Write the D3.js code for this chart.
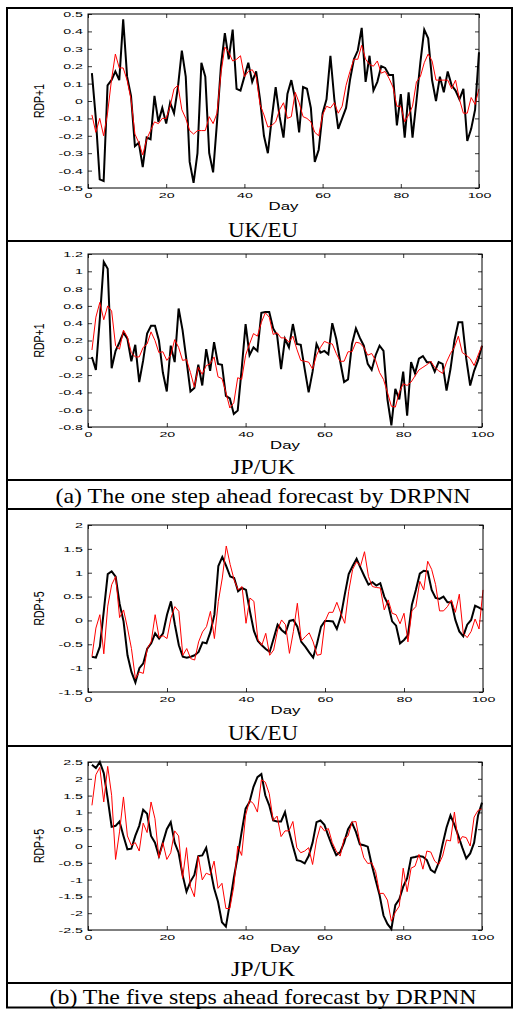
<!DOCTYPE html>
<html>
<head>
<meta charset="utf-8">
<script src="https://cdn.jsdelivr.net/npm/d3@7.9.0/dist/d3.min.js"></script>
<style>
  body { margin: 0; background: #fff; }
  svg { display: block; }
</style>
</head>
<body>
<svg id="chart" width="513" height="1009"></svg>
<script>
// days 1..100 on the x axis
const days = d3.range(1, 101);
const xTicks = [0, 20, 40, 60, 80, 100];

// (a) one step ahead, UK/EU
const ukEuActual1 = [0.16, -0.1, -0.45, -0.46, 0.09, 0.12, 0.17, 0.12, 0.47, 0.14,
  0.03, -0.26, -0.24, -0.38, -0.21, -0.22, 0.03, -0.12, -0.04, -0.13,
  -0.01, -0.07, 0.08, 0.29, 0.14, -0.35, -0.47, -0.3, 0.22, 0.14,
  -0.3, -0.41, -0.12, 0.2, 0.39, 0.24, 0.41, 0.07, 0.06, 0.14,
  0.22, 0.11, 0.17, 0.01, -0.2, -0.3, -0.1, 0.08, -0.09, -0.21,
  0.04, 0.12, 0.01, -0.18, 0.08, 0.07, -0.04, -0.35, -0.28, -0.07,
  0.01, 0.26, 0.01, -0.16, -0.1, -0.04, 0.12, 0.24, 0.29, 0.42,
  0.11, 0.26, 0.06, 0.11, 0.2, 0.19, 0.15, 0.15, -0.14, 0.04,
  -0.21, 0.05, -0.21, 0.0, 0.22, 0.41, 0.36, 0.12, 0.0, 0.14,
  0.05, 0.17, 0.09, 0.06, 0.01, 0.07, -0.23, -0.16, -0.05, 0.28];
const ukEuForecast1 = [-0.08, -0.18, -0.1, -0.2, -0.07, 0.12, 0.27, 0.19, 0.19, 0.12,
  0.01, -0.19, -0.24, -0.31, -0.22, -0.17, -0.12, -0.13, -0.1, -0.1,
  -0.03, 0.07, 0.09, -0.05, -0.1, -0.17, -0.19, -0.17, -0.17, -0.17,
  -0.09, -0.13, -0.07, 0.16, 0.31, 0.28, 0.23, 0.24, 0.26, 0.14,
  0.17, 0.18, 0.14, -0.02, -0.08, -0.15, -0.14, -0.12, -0.05, -0.01,
  -0.1, -0.09, 0.05, -0.01, -0.09, -0.1, -0.12, -0.18, -0.2, -0.08,
  -0.03, -0.04, -0.01, -0.07, -0.03, 0.09, 0.17, 0.24, 0.24, 0.32,
  0.24, 0.21, 0.2, 0.23, 0.16, 0.17, 0.13, 0.08, -0.03, -0.03,
  -0.12, -0.08, -0.03, 0.11, 0.14, 0.22, 0.27, 0.23, 0.12, 0.12,
  0.12, 0.12, 0.07, 0.12, 0.01, -0.07, -0.07, 0.02, -0.02, 0.07];
const ukEuTicks1 = [-0.5, -0.4, -0.3, -0.2, -0.1, 0, 0.1, 0.2, 0.3, 0.4, 0.5];

// (a) one step ahead, JP/UK
const jpUkActual1 = [0.01, -0.14, 0.45, 1.11, 1.03, -0.12, 0.08, 0.18, 0.29, 0.22,
  -0.04, 0.15, -0.28, -0.03, 0.28, 0.37, 0.37, 0.2, -0.17, -0.39,
  0.14, -0.05, 0.57, 0.32, -0.03, -0.39, -0.35, -0.08, -0.32, 0.1,
  -0.15, 0.18, -0.07, -0.08, -0.44, -0.47, -0.65, -0.61, -0.13, 0.39,
  0.03, 0.12, 0.08, 0.52, 0.53, 0.53, 0.34, 0.26, -0.13, 0.22,
  0.12, 0.39, 0.16, 0.15, -0.13, -0.4, -0.16, 0.16, 0.06, 0.08,
  0.04, 0.4, 0.22, -0.04, -0.28, -0.25, 0.16, 0.34, 0.23, 0.14,
  -0.07, -0.14, 0.03, 0.14, 0.08, -0.48, -0.78, -0.36, -0.48, -0.16,
  -0.67, -0.05, -0.18, -0.01, 0.02, -0.05, -0.05, -0.16, -0.05, -0.07,
  -0.38, -0.13, 0.2, 0.41, 0.41, -0.01, -0.32, -0.15, -0.03, 0.14];
const jpUkForecast1 = [0.09, 0.47, 0.64, 0.44, 0.6, 0.54, 0.14, 0.1, 0.32, 0.24,
  0.06, 0.01, 0.01, 0.12, 0.16, 0.3, 0.2, 0.06, 0.07, -0.03,
  0.03, 0.21, 0.12, -0.03, -0.02, -0.17, -0.34, -0.11, -0.19, -0.09,
  -0.07, 0.01, -0.22, -0.24, -0.4, -0.58, -0.52, -0.23, -0.25, 0.03,
  0.16, 0.28, 0.25, 0.41, 0.52, 0.47, 0.27, 0.29, 0.23, 0.23,
  0.18, 0.25, 0.1, -0.03, -0.04, -0.05, -0.13, 0.03, 0.12, 0.19,
  0.17, 0.16, 0.05, -0.04, -0.04, 0.07, 0.07, 0.18, 0.17, 0.12,
  0.03, 0.05, -0.03, -0.17, -0.25, -0.4, -0.56, -0.57, -0.4, -0.3,
  -0.32, -0.28, -0.21, -0.14, -0.11, -0.08, -0.04, -0.11, -0.15, -0.18,
  -0.05, 0.05, 0.12, 0.25, 0.06, 0.03, -0.01, -0.09, 0.03, 0.14];
const jpUkTicks1 = [-0.8, -0.6, -0.4, -0.2, 0, 0.2, 0.4, 0.6, 0.8, 1, 1.2];

// (b) five steps ahead, UK/EU
const ukEuActual5 = [-0.76, -0.78, -0.55, 0.2, 0.97, 1.03, 0.92, 0.35, -0.02, -0.73,
  -1.08, -1.3, -1.0, -0.9, -0.59, -0.48, -0.27, -0.38, -0.27, 0.12,
  0.4, -0.09, -0.52, -0.76, -0.78, -0.76, -0.73, -0.66, -0.46, -0.48,
  -0.24, 0.12, 1.14, 1.33, 1.14, 0.92, 0.89, 0.61, 0.68, 0.64,
  0.19, -0.22, -0.43, -0.52, -0.6, -0.66, -0.38, -0.09, -0.2, -0.27,
  -0.01, 0.01, -0.13, -0.45, -0.55, -0.67, -0.78, -0.48, -0.13, -0.01,
  -0.01, -0.02, -0.18, 0.08, 0.54, 0.97, 1.14, 1.29, 1.1, 0.92,
  0.75, 0.8, 0.73, 0.78, 0.5, 0.33, -0.02, -0.11, -0.48, -0.41,
  -0.31, 0.33, 0.64, 0.98, 1.04, 1.03, 0.64, 0.47, 0.45, 0.5,
  0.38, 0.38, 0.01, -0.23, -0.33, -0.09, 0.01, 0.31, 0.27, 0.22];
const ukEuForecast5 = [-0.76, -0.16, 0.12, -0.7, 0.3, 0.75, 0.92, 0.06, 0.22, -0.16,
  -0.59, -1.22, -1.08, -1.11, -0.59, -0.45, 0.12, -0.36, -0.32, -0.38,
  0.05, 0.29, 0.19, -0.73, -0.59, -0.8, -0.83, -0.45, -0.24, -0.13,
  0.19, -0.38, 0.4, 0.89, 1.56, 1.17, 0.85, 0.64, 0.71, -0.06,
  0.47, 0.4, -0.4, -0.52, -0.27, -0.73, -0.62, -0.2, 0.01, -0.09,
  -0.69, -0.23, 0.36, -0.43, -0.34, -0.26, -0.45, -0.73, -0.71, -0.02,
  0.17, 0.17, 0.38, 0.15, -0.06, 0.61, 1.07, 1.23, 1.14, 1.44,
  0.92, 0.71, 0.69, 0.68, 0.22, 0.43, 0.15, 0.12, -0.07, 0.15,
  -0.45, 0.2, 0.29, 0.82, 0.64, 1.24, 1.07, 0.75, 0.2, 0.2,
  0.29, 0.43, 0.17, 0.55, -0.27, -0.36, -0.23, 0.03, -0.18, 0.64];
const ukEuTicks5 = [-1.5, -1, -0.5, 0, 0.5, 1, 1.5, 2];

// (b) five steps ahead, JP/UK
const jpUkActual5 = [2.42, 2.32, 2.5, 2.17, 1.41, 0.57, 0.6, 0.73, 0.3, -0.1,
  -0.08, 0.3, 0.6, 1.08, 0.96, 0.3, 0.1, -0.3, 0.1, 0.5,
  0.71, 0.1, -0.2, -0.86, -1.36, -1.06, -0.86, -0.3, -0.28, -0.05,
  -0.66, -1.26, -1.66, -2.27, -2.4, -1.71, -0.96, -0.3, 0.42, 1.11,
  1.31, 1.76, 2.05, 2.14, 1.51, 1.21, 0.76, 0.73, 0.73, 1.01,
  0.45, 0.0, -0.42, -0.45, -0.52, -0.3, 0.1, 0.71, 0.76, 0.63,
  0.3, 0.0, -0.27, -0.18, 0.1, 0.5, 0.69, 0.42, 0.05, 0.02,
  -0.02, -0.55, -1.01, -1.46, -2.07, -2.32, -2.47, -1.76, -1.59, -1.21,
  -0.96, -0.35, -0.33, -0.3, -0.32, -0.42, -0.71, -0.79, -0.5, 0.05,
  0.55, 0.91, 0.63, 0.3, -0.05, -0.37, -0.22, 0.1, 0.91, 1.29];
const jpUkForecast5 = [1.21, 2.12, 2.34, 1.31, 2.37, 1.51, -0.4, 0.42, 1.46, 0.3,
  0.02, 0.1, -0.15, 0.68, 0.4, 1.31, 0.81, -0.35, 0.1, -0.4,
  -0.2, 0.45, 0.3, -0.96, -0.05, -1.21, -1.51, -0.3, -1.01, -0.81,
  -0.86, -0.45, -1.26, -1.11, -1.86, -1.86, -1.21, 0.0, -0.28, 0.91,
  1.36, 1.26, 1.01, 1.97, 1.9, 1.56, 0.76, 0.89, 0.28, 0.45,
  0.45, 0.73, -0.05, -0.2, -0.15, -0.05, -0.55, 0.18, 0.6, 0.45,
  0.52, 0.1, -0.15, -0.3, 0.22, 0.3, 0.71, 0.73, 0.1, -0.35,
  -0.52, -0.5, -0.76, -1.41, -1.41, -1.61, -2.24, -1.97, -1.79, -0.66,
  -1.36, -0.66, -0.6, -0.25, -0.69, -0.15, -0.18, -0.45, -0.55, -0.3,
  0.18, 0.15, 1.01, 0.08, 0.28, 0.25, 0.0, 0.86, 1.06, 1.11];
const jpUkTicks5 = [-2.5, -2, -1.5, -1, -0.5, 0, 0.5, 1, 1.5, 2, 2.5];

const panels = [
  { actual: ukEuActual1, forecast: ukEuForecast1, ticks: ukEuTicks1, ylabel: "RDP+1", title: "UK/EU",
    left: 88, right: 479, top: 14, bottom: 188, titleY: 237, titleW: 70 },
  { actual: jpUkActual1, forecast: jpUkForecast1, ticks: jpUkTicks1, ylabel: "RDP+1", title: "JP/UK",
    left: 88, right: 482, top: 254, bottom: 427, titleY: 474, titleW: 64 },
  { actual: ukEuActual5, forecast: ukEuForecast5, ticks: ukEuTicks5, ylabel: "RDP+5", title: "UK/EU",
    left: 88, right: 483, top: 525, bottom: 692, titleY: 740, titleW: 70 },
  { actual: jpUkActual5, forecast: jpUkForecast5, ticks: jpUkTicks5, ylabel: "RDP+5", title: "JP/UK",
    left: 88, right: 482, top: 762, bottom: 930, titleY: 976, titleW: 64 }
];

const captions = [
  { text: "(a) The one step ahead forecast by DRPNN", y: 503, w: 415 },
  { text: "(b) The five steps ahead forecast by DRPNN", y: 1004, w: 427 }
];

const svg = d3.select("#chart");
const sans = "'Liberation Sans', Arial, Helvetica, sans-serif";
const serif = "'Liberation Serif', 'Times New Roman', serif";

// the scanned figure is wider than it is tall, so text is stretched sideways
function stretch(sel, k) {
  sel.each(function () {
    const w = this.getComputedTextLength();
    this.setAttribute("textLength", w * k);
    this.setAttribute("lengthAdjust", "spacingAndGlyphs");
  });
}

function fitWidth(sel, w) {
  sel.attr("textLength", w).attr("lengthAdjust", "spacingAndGlyphs");
}

function drawPanel(p) {
  const x = d3.scaleLinear().domain([0, 100]).range([p.left, p.right]);
  const y = d3.scaleLinear().domain(d3.extent(p.ticks)).range([p.bottom, p.top]);
  const g = svg.append("g");

  const fmt = d => String(d);

  const xAxis = g.append("g")
    .attr("transform", `translate(0,${p.bottom})`)
    .call(d3.axisBottom(x).tickValues(xTicks).tickFormat(fmt)
      .tickSizeInner(-4).tickSizeOuter(0).tickPadding(5));

  g.append("g")
    .attr("transform", `translate(0,${p.top})`)
    .call(d3.axisTop(x).tickValues(xTicks).tickFormat("")
      .tickSizeInner(-4).tickSizeOuter(0));

  const yAxis = g.append("g")
    .attr("transform", `translate(${p.left},0)`)
    .call(d3.axisLeft(y).tickValues(p.ticks).tickFormat(fmt)
      .tickSizeInner(-4).tickSizeOuter(0).tickPadding(5));

  g.append("g")
    .attr("transform", `translate(${p.right},0)`)
    .call(d3.axisRight(y).tickValues(p.ticks).tickFormat("")
      .tickSizeInner(-4).tickSizeOuter(0));

  g.selectAll(".domain").remove();
  g.selectAll(".tick line").attr("stroke", "#000").attr("stroke-width", 0.8);

  g.selectAll(".tick text")
    .attr("font-family", sans)
    .attr("font-size", 7.5)
    .attr("fill", "#000");
  stretch(xAxis.selectAll(".tick text"), 1.9);
  stretch(yAxis.selectAll(".tick text"), 1.9);

  const line = d3.line()
    .x((d, i) => x(days[i]))
    .y(d => y(d));

  g.append("path")
    .datum(p.actual)
    .attr("fill", "none")
    .attr("stroke", "#000")
    .attr("stroke-width", 2)
    .attr("stroke-linejoin", "miter")
    .attr("d", line);

  g.append("path")
    .datum(p.forecast)
    .attr("fill", "none")
    .attr("stroke", "#ff0000")
    .attr("stroke-width", 1)
    .attr("d", line);

  g.append("rect")
    .attr("x", p.left)
    .attr("y", p.top)
    .attr("width", p.right - p.left)
    .attr("height", p.bottom - p.top)
    .attr("fill", "none")
    .attr("stroke", "#000")
    .attr("stroke-width", 1);

  const day = g.append("text")
    .attr("x", (p.left + p.right) / 2)
    .attr("y", p.bottom + 22)
    .attr("text-anchor", "middle")
    .attr("font-family", sans)
    .attr("font-size", 10.5)
    .text("Day");
  stretch(day, 1.6);

  const midY = (p.top + p.bottom) / 2;
  g.append("text")
    .attr("transform", `translate(39,${midY}) scale(1.35,1) rotate(-90)`)
    .attr("text-anchor", "middle")
    .attr("dy", "0.36em")
    .attr("font-family", sans)
    .attr("font-size", 10.5)
    .text(p.ylabel);

  const t = g.append("text")
    .attr("x", 263)
    .attr("y", p.titleY)
    .attr("text-anchor", "middle")
    .attr("font-family", serif)
    .attr("font-size", 21)
    .text(p.title);
  fitWidth(t, p.titleW);
}

panels.forEach(drawPanel);

captions.forEach(c => {
  const t = svg.append("text")
    .attr("x", 263)
    .attr("y", c.y)
    .attr("text-anchor", "middle")
    .attr("font-family", serif)
    .attr("font-size", 21)
    .text(c.text);
  fitWidth(t, c.w);
});

// outer frame and the rules between the boxes
svg.append("rect")
  .attr("x", 7).attr("y", 8)
  .attr("width", 505).attr("height", 999.5)
  .attr("fill", "none")
  .attr("stroke", "#000")
  .attr("stroke-width", 2);

svg.selectAll("line.rule")
  .data([241, 480, 509, 746, 983])
  .join("line")
  .attr("class", "rule")
  .attr("x1", 7).attr("x2", 512)
  .attr("y1", d => d).attr("y2", d => d)
  .attr("stroke", "#000")
  .attr("stroke-width", 2);
</script>
</body>
</html>
